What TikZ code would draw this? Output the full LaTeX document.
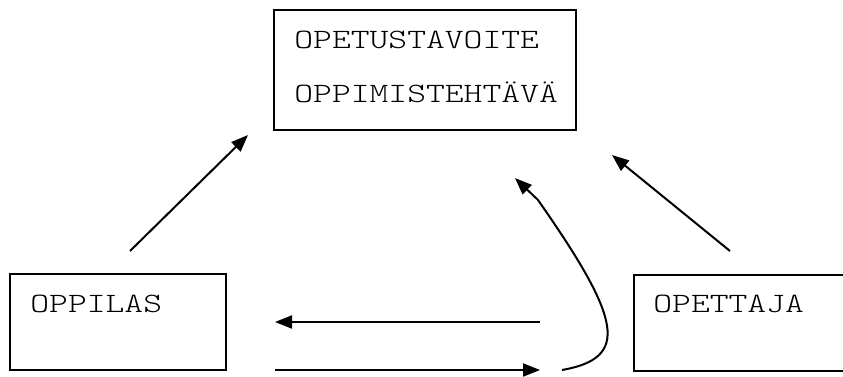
\documentclass[tikz,border=0pt]{standalone}
\usetikzlibrary{arrows.meta}
\newcommand{\wtxt}[1]{\scalebox{1.28}[1]{#1}}
\begin{document}
\begin{tikzpicture}[x=0.5pt,y=-0.5pt,
  box/.style={draw,line width=1pt,inner sep=0pt,outer sep=0pt},
  lbl/.style={anchor=base west,inner sep=0pt,font=\fontsize{14pt}{16pt}\ttfamily\fontseries{l}\selectfont},
  arr/.style={line width=1pt,-{Triangle[length=8.5pt,width=6.5pt]}}]
\useasboundingbox (0,0) rectangle (843,376);
\begin{scope}
\clip (0,0) rectangle (843,376);
\node[box,minimum width=302pt*0.5,minimum height=120pt*0.5,anchor=north west] (goal) at (274,10) {};
\node[box,minimum width=216pt*0.5,minimum height=96pt*0.5,anchor=north west] (pupil) at (10,274) {};
\node[box,minimum width=230pt*0.5,minimum height=96pt*0.5,anchor=north west] (teacher) at (634,275) {};
\end{scope}
\node[lbl] (t1) at (294,48) {\wtxt{OPETUSTAVOITE}};
\node[lbl] (t2) at (294,102) {\wtxt{OPPIMISTEHTÄVÄ}};
\node[lbl] (t3) at (30,312) {\wtxt{OPPILAS}};
\node[lbl] (t4) at (653,312) {\wtxt{OPETTAJA}};
\coordinate (a1s) at (130,251); \coordinate (a1e) at (248,135);
\coordinate (a2s) at (730,251); \coordinate (a2e) at (612,155);
\coordinate (a3s) at (540,322); \coordinate (a3e) at (275,322);
\coordinate (a4s) at (275,370); \coordinate (a4e) at (540,370);
\coordinate (c0) at (562,370); \coordinate (c1) at (538,200); \coordinate (c2) at (515,178);
\draw[arr] (a1s) -- (a1e);
\draw[arr] (a2s) -- (a2e);
\draw[arr] (a3s) -- (a3e);
\draw[arr] (a4s) -- (a4e);
\draw[arr] (c0) .. controls (630,358) and (622,320) .. (c1) -- (c2);
\end{tikzpicture}
\end{document}
